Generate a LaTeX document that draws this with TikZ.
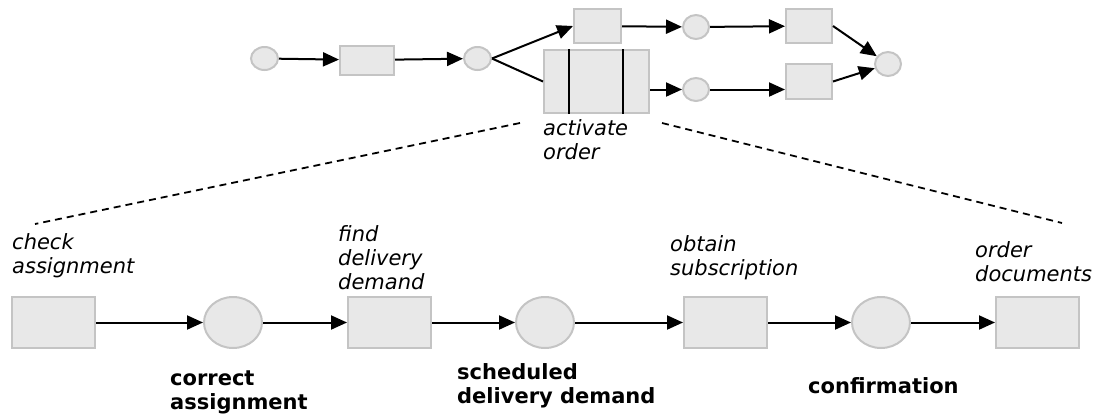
\documentclass[tikz,border=0pt]{standalone}
\usepackage{fontspec}
\setmainfont{DejaVu Sans}
\usetikzlibrary{arrows.meta, shapes.geometric, positioning}
\definecolor{boxfill}{RGB}{232,232,232}
\definecolor{boxline}{RGB}{196,196,196}

\begin{document}
\begin{tikzpicture}[x=1pt, y=-1pt,
  trans/.style={draw=boxline, fill=boxfill, line width=2pt, rectangle, inner sep=0pt},
  place/.style={draw=boxline, fill=boxfill, line width=2pt, ellipse, inner sep=0pt},
  flow/.style={-{Triangle[length=16pt, width=14pt]}, line width=2pt},
  task/.style={font=\fontsize{21}{24}\selectfont\itshape, align=left, anchor=base west, inner sep=0pt},
  state/.style={font=\fontsize{21}{24}\selectfont\bfseries, align=left, anchor=base west, inner sep=0pt},
  zoomline/.style={dash pattern=on 7pt off 5pt, line width=1.8pt}]
  \useasboundingbox (0,0) rectangle (1101,416);

  % upper net
  \node[place, minimum width=27pt, minimum height=23pt] (ps) at (264.5,58.5) {};
  \node[trans, minimum width=54pt, minimum height=29pt] (ta) at (367,60) {};
  \node[place, minimum width=27pt, minimum height=23pt] (pa) at (477.5,58.5) {};
  \node[trans, minimum width=47pt, minimum height=34pt] (tb) at (597.5,26) {};
  \node[trans, minimum width=105pt, minimum height=63pt] (tact) at (596.5,81.5) {};
  \node[place, minimum width=26pt, minimum height=24pt] (pb) at (696,27) {};
  \node[place, minimum width=26pt, minimum height=23pt] (pc) at (696,89.5) {};
  \node[trans, minimum width=46pt, minimum height=34pt] (tc) at (809,26) {};
  \node[trans, minimum width=46pt, minimum height=35pt] (td) at (809,81.5) {};
  \node[place, minimum width=26pt, minimum height=24pt] (pe) at (888,64) {};
  \draw[line width=2pt] ([xshift=26pt]tact.north west) -- ([xshift=26pt]tact.south west);
  \draw[line width=2pt] ([xshift=80pt]tact.north west) -- ([xshift=80pt]tact.south west);

  \draw[flow] (ps) -- (ta);
  \draw[flow] (ta) -- (pa);
  \draw[flow] (pa.east) -- (tb.west);
  \draw[line width=2pt] (pa.east) -- (tact.west);
  \draw[flow] (tb) -- (pb);
  \draw[flow] (pb) -- (tc);
  \draw[flow] (pc -| tact.east) -- (pc);
  \draw[flow] (pc) -- (pc -| td.west);
  \draw[flow] (tc.east) -- (pe);
  \draw[flow] (td.east) -- (pe);

  \node[task] (lact) at (543,159) {activate\\order};

  % zoom lines
  \coordinate (zla) at (520,123);
  \coordinate (zlb) at (35,224);
  \coordinate (zra) at (662,123);
  \coordinate (zrb) at (1062,223);
  \draw[zoomline] (zla) -- (zlb);
  \draw[zoomline] (zra) -- (zrb);

  % refined net
  \node[trans, minimum width=83pt, minimum height=51pt] (chk) at (53.5,322.5) {};
  \node[place, minimum width=58pt, minimum height=51pt] (cas) at (233,322.5) {};
  \node[trans, minimum width=83pt, minimum height=51pt] (fnd) at (389.5,322.5) {};
  \node[place, minimum width=58pt, minimum height=51pt] (sdd) at (545,322.5) {};
  \node[trans, minimum width=83pt, minimum height=51pt] (obt) at (725.5,322.5) {};
  \node[place, minimum width=58pt, minimum height=51pt] (cnf) at (881,322.5) {};
  \node[trans, minimum width=83pt, minimum height=51pt] (odc) at (1037.5,322.5) {};
  \draw[flow] (chk) -- (cas);
  \draw[flow] (cas) -- (fnd);
  \draw[flow] (fnd) -- (sdd);
  \draw[flow] (sdd) -- (obt);
  \draw[flow] (obt) -- (cnf);
  \draw[flow] (cnf) -- (odc);

  \node[task] (lchk) at (12,273) {check\\assignment};
  \node[task] (lfnd) at (338,289) {find\\delivery\\demand};
  \node[task] (lobt) at (670,275) {obtain\\subscription};
  \node[task] (lodc) at (975,281) {order\\documents};
  \node[state] (lcas) at (170,409) {correct\\assignment};
  \node[state] (lsdd) at (457,403) {scheduled\\delivery demand};
  \node[state] (lcnf) at (808,393) {confirmation};
\end{tikzpicture}
\end{document}
